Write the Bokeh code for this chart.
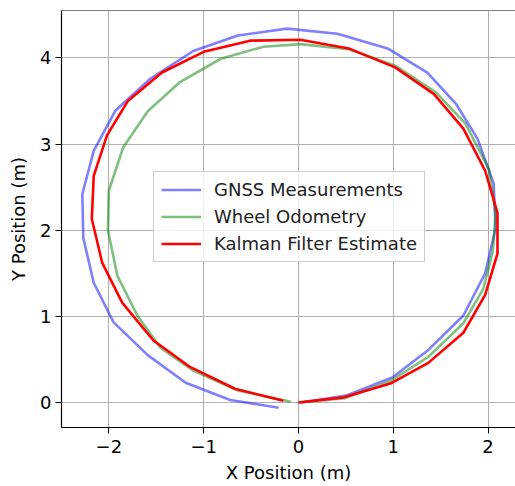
from bokeh.plotting import figure
from bokeh.models import Legend, LegendItem, FixedTicker, Span
from bokeh.embed import file_html
from bokeh.resources import INLINE

gnss_x = [0.03, 0.50, 0.99, 1.36, 1.74, 1.97, 2.08, 2.06, 1.89, 1.66, 1.36, 0.94, 0.41, -0.12, -0.64, -1.11, -1.56, -1.93, -2.16, -2.28, -2.27, -2.16, -1.95, -1.59, -1.19, -0.72, -0.21]
gnss_y = [0.00, 0.08, 0.29, 0.60, 1.01, 1.50, 2.02, 2.54, 3.06, 3.47, 3.83, 4.11, 4.28, 4.34, 4.26, 4.08, 3.76, 3.39, 2.92, 2.42, 1.91, 1.39, 0.93, 0.55, 0.23, 0.03, -0.06]

odom_x = [0.00, 0.49, 0.97, 1.37, 1.74, 1.95, 2.05, 2.08, 2.01, 1.76, 1.45, 1.02, 0.53, 0.02, -0.37, -0.82, -1.25, -1.59, -1.85, -2.00, -2.01, -1.91, -1.70, -1.46, -1.11, -0.64, -0.08]
odom_y = [0.00, 0.05, 0.25, 0.53, 0.92, 1.32, 1.75, 2.19, 2.71, 3.24, 3.60, 3.91, 4.10, 4.16, 4.13, 3.99, 3.72, 3.38, 2.96, 2.46, 2.00, 1.47, 1.01, 0.64, 0.37, 0.14, 0.01]

kf_x = [0.00, 0.48, 0.97, 1.37, 1.74, 1.97, 2.10, 2.10, 1.97, 1.74, 1.43, 1.02, 0.53, 0.02, -0.51, -1.00, -1.44, -1.80, -2.02, -2.16, -2.18, -2.07, -1.86, -1.53, -1.14, -0.67, -0.16]
kf_y = [0.00, 0.06, 0.22, 0.46, 0.81, 1.25, 1.73, 2.20, 2.69, 3.18, 3.58, 3.89, 4.11, 4.21, 4.20, 4.07, 3.83, 3.50, 3.10, 2.63, 2.13, 1.62, 1.16, 0.72, 0.41, 0.16, 0.02]

x_ticks = [-2, -1, 0, 1, 2]
y_ticks = [0, 1, 2, 3, 4]
labels = ["GNSS Measurements", "Wheel Odometry", "Kalman Filter Estimate"]

X_RANGE = (-2.50, 2.29)
Y_RANGE = (-0.29, 4.55)

FONT = "DejaVu Sans"

p = figure(width=515, height=486, output_backend="svg", toolbar_location=None,
           x_range=X_RANGE, y_range=Y_RANGE,
           min_border_left=61, min_border_right=0, min_border_top=10, min_border_bottom=59)
p.background_fill_color = "white"
p.border_fill_color = "white"
p.outline_line_color = None

p.add_layout(Span(location=Y_RANGE[1], dimension="width", line_color="black", line_width=1.2))

r1 = p.line(gnss_x, gnss_y, line_color="blue", line_alpha=0.5, line_width=2.6)
r2 = p.line(odom_x, odom_y, line_color="green", line_alpha=0.5, line_width=2.6)
r3 = p.line(kf_x, kf_y, line_color="red", line_alpha=1.0, line_width=2.6)

for ax in (p.xaxis[0], p.yaxis[0]):
    ax.axis_line_color = "black"
    ax.axis_line_width = 1.2
    ax.major_tick_line_color = "black"
    ax.major_tick_out = 6
    ax.major_tick_in = 0
    ax.minor_tick_line_color = None
    ax.major_label_text_font = FONT
    ax.major_label_text_font_size = "18px"
    ax.major_label_text_color = "black"
    ax.axis_label_text_font = FONT
    ax.axis_label_text_font_size = "18px"
    ax.axis_label_text_font_style = "normal"
    ax.axis_label_text_color = "black"

p.xaxis.major_label_standoff = 6
p.yaxis.major_label_standoff = 4
p.xaxis.ticker = FixedTicker(ticks=x_ticks)
p.yaxis.ticker = FixedTicker(ticks=y_ticks)
p.xaxis.axis_label = "X Position (m)"
p.yaxis.axis_label = "Y Position (m)"
p.xaxis.axis_label_standoff = 6
p.yaxis.axis_label_standoff = 8

p.xgrid.ticker = FixedTicker(ticks=x_ticks)
p.ygrid.ticker = FixedTicker(ticks=y_ticks)
p.grid.grid_line_color = "#b0b0b0"
p.grid.grid_line_width = 1.1

legend = Legend(items=[LegendItem(label=labels[0], renderers=[r1]),
                       LegendItem(label=labels[1], renderers=[r2]),
                       LegendItem(label=labels[2], renderers=[r3])],
                location=(92, 165))
legend.label_text_font = FONT
legend.label_text_font_size = "18px"
legend.label_text_color = "#222222"
legend.glyph_width = 40
legend.glyph_height = 21
legend.label_height = 21
legend.spacing = 6
legend.padding = 7
legend.margin = 0
legend.label_standoff = 13
legend.border_line_color = "#cccccc"
legend.border_line_alpha = 1.0
legend.background_fill_color = "white"
legend.background_fill_alpha = 0.8
p.add_layout(legend, "center")

open("out.html", "w").write(file_html(p, INLINE))
